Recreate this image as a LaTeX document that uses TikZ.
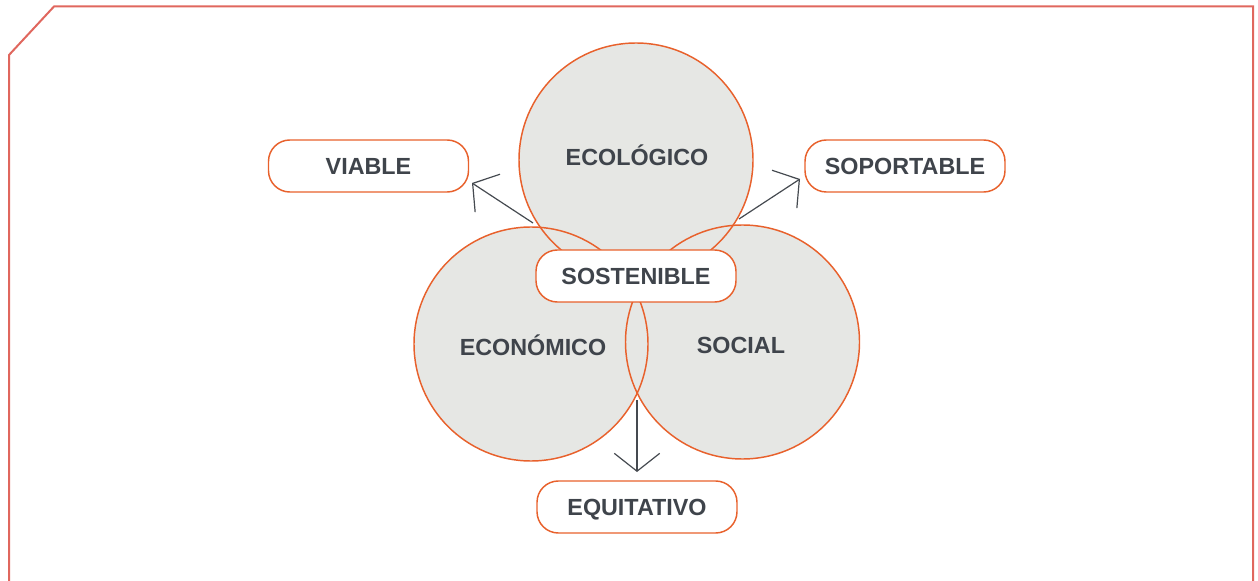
\documentclass[tikz,border=0pt]{standalone}
\usepackage{fontspec}
\setmainfont{Liberation Sans}
\usetikzlibrary{arrows.meta,backgrounds}
\definecolor{framec}{HTML}{E0675E}
\definecolor{org}{HTML}{E8612C}
\definecolor{cfill}{HTML}{E6E7E4}
\definecolor{txt}{HTML}{3F444B}
\definecolor{arrc}{HTML}{454A50}
\begin{document}
\begin{tikzpicture}[x=0.75pt,y=-0.75pt,
  lbl/.style={rectangle, rounded corners=16pt, draw=org, line width=1.1pt, fill=white,
    minimum width=150pt, minimum height=39pt, inner sep=0pt,
    font=\fontsize{17.5}{20}\selectfont\bfseries, text=txt, text height=12.5pt, text depth=0pt},
  ring/.style={circle, draw=org, line width=1.1pt, minimum size=175.5pt, inner sep=0pt},
  ctext/.style={inner sep=0pt, font=\fontsize{17.5}{20}\selectfont\bfseries, text=txt,
    text height=12.5pt, text depth=0pt},
  arrowline/.style={draw=arrc, line width=0.9pt,
    -{Straight Barb[length=13.4pt, width=34pt, line width=0.9pt]}}
]
\useasboundingbox (0,0) rectangle (1258,581);
\draw[framec, line width=1.5pt] (9,585) -- (9,55) -- (54,6.5) -- (1253,6.5) -- (1253,585);

% circles (outlines + labels)
\node[ring] (ceco) at (636,160) {};
\node[ring] (ceconom) at (531,344) {};
\node[ring] (csocial) at (742.5,342) {};
\begin{scope}[on background layer]
  \fill[cfill] (ceco.center) circle[radius=87.75pt];
  \fill[cfill] (ceconom.center) circle[radius=87.75pt];
  \fill[cfill] (csocial.center) circle[radius=87.75pt];
\end{scope}
\node[ctext] (teco) at (637,157) {ECOLÓGICO};
\node[ctext] (teconom) at (533,347) {ECONÓMICO};
\node[ctext] (tsocial) at (741,345) {SOCIAL};

% label boxes
\node[lbl] (sost) at (636,276) {SOSTENIBLE};
\node[lbl] (viable) at (368.5,166) {VIABLE};
\node[lbl] (soport) at (905,166) {SOPORTABLE};
\node[lbl] (equit) at (637,507) {EQUITATIVO};

% arrows
\coordinate (a1s) at (533,223);
\coordinate (a1e) at (472,183);
\coordinate (a2s) at (739,219);
\coordinate (a2e) at (800,179);
\coordinate (a3s) at (637,400);
\coordinate (a3e) at (637,472);
\draw[arrowline] (a1s) -- (a1e);
\draw[arrowline] (a2s) -- (a2e);
\draw[arrowline] (a3s) -- (a3e);
\end{tikzpicture}
\end{document}
